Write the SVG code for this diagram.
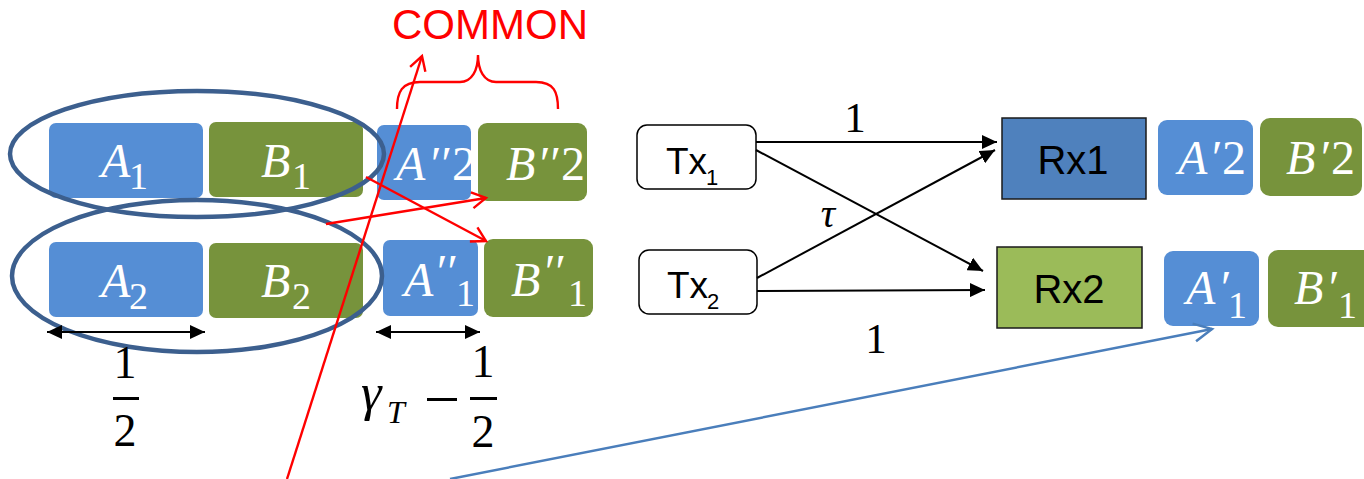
<svg xmlns="http://www.w3.org/2000/svg" width="1364" height="479" viewBox="0 0 1364 479">
  <style>
    .blk-a { fill: #558ED5; }
    .blk-b { fill: #77933C; }
    .m { font-family: "Liberation Serif", "DejaVu Serif", serif; font-style: italic; font-size: 48px; fill: #FFFFFF; }
    .s { font-size: 38px; font-style: normal; }
    .d { font-style: normal; }
    .ring { fill: none; stroke: #3C5F8E; stroke-width: 4.5; }
    .tx { fill: #FFFFFF; stroke: #000000; stroke-width: 1.5; }
    .lbl { font-family: "Liberation Sans", Arial, sans-serif; fill: #000000; }
    .num { font-family: "Liberation Serif", "DejaVu Serif", serif; fill: #000000; }
    .link { stroke: #000000; stroke-width: 2; fill: none; marker-end: url(#solid); }
    .red { stroke: #FF0000; stroke-width: 2.4; fill: none; }
    .dim { stroke: #000000; stroke-width: 2; marker-start: url(#solid); marker-end: url(#solid); }
  </style>
  <defs>
    <marker id="solid" markerUnits="userSpaceOnUse" markerWidth="16" markerHeight="14" refX="15" refY="7" orient="auto-start-reverse">
      <path d="M0,0 L15,7 L0,14 Z" fill="#000000"/>
    </marker>
    <marker id="openRed" markerUnits="userSpaceOnUse" markerWidth="20" markerHeight="20" refX="16" refY="10" orient="auto">
      <path d="M2,2 L16,10 L2,18" fill="none" stroke="#FF0000" stroke-width="2.4"/>
    </marker>
    <marker id="openBlue" markerUnits="userSpaceOnUse" markerWidth="24" markerHeight="24" refX="20" refY="12" orient="auto">
      <path d="M2,3 L20,12 L2,21" fill="none" stroke="#4A7EBB" stroke-width="2.5"/>
    </marker>
  </defs>

  <!-- transmitted blocks, row 1 and row 2 -->
  <g id="A1"><rect class="blk-a" x="49" y="123" width="154" height="75" rx="7"/>
    <text class="m" x="101" y="177">A<tspan class="s" x="129" y="189">1</tspan></text></g>
  <g id="B1"><rect class="blk-b" x="209" y="122" width="154" height="75" rx="7"/>
    <text class="m" x="261" y="177">B<tspan class="s" x="292" y="189">1</tspan></text></g>
  <g id="A2"><rect class="blk-a" x="49" y="242" width="154" height="75" rx="7"/>
    <text class="m" x="101" y="297">A<tspan class="s" x="129" y="309">2</tspan></text></g>
  <g id="B2"><rect class="blk-b" x="209" y="243" width="154" height="75" rx="7"/>
    <text class="m" x="261" y="297">B<tspan class="s" x="292" y="309">2</tspan></text></g>

  <!-- common blocks -->
  <g id="A2pp"><rect class="blk-a" x="377" y="125" width="94" height="75" rx="7"/>
    <text class="m" x="396" y="180">A<tspan x="428">′′</tspan><tspan class="d" x="452">2</tspan></text></g>
  <g id="B2pp"><rect class="blk-b" x="478" y="123" width="109" height="78" rx="9"/>
    <text class="m" x="506" y="180">B<tspan x="537">′′</tspan><tspan class="d" x="561">2</tspan></text></g>
  <g id="A1pp"><rect class="blk-a" x="383" y="240" width="95" height="76" rx="7"/>
    <text class="m" x="404" y="296">A<tspan x="434" y="288">′′</tspan><tspan class="s" x="456" y="306">1</tspan></text></g>
  <g id="B1pp"><rect class="blk-b" x="484" y="239" width="109" height="78" rx="9"/>
    <text class="m" x="511" y="296">B<tspan x="542" y="288">′′</tspan><tspan class="s" x="568" y="306">1</tspan></text></g>

  <!-- grouping ellipses -->
  <g id="group1"><ellipse class="ring" cx="197" cy="154" rx="187" ry="63"/></g>
  <g id="group2"><ellipse class="ring" cx="197" cy="276" rx="185" ry="76"/></g>

  <!-- widths -->
  <g id="widths">
    <line class="dim" x1="47" y1="332" x2="205" y2="332"/>
    <line class="dim" x1="376" y1="332" x2="480" y2="332"/>
    <text class="num" x="125" y="378" font-size="46" text-anchor="middle">1</text>
    <rect x="113" y="397" width="26" height="3" fill="#000000"/>
    <text class="num" x="125" y="446" font-size="46" text-anchor="middle">2</text>
    <text class="num" x="361" y="410" font-size="52" font-style="italic">γ<tspan x="387" y="423" font-size="32">T</tspan></text>
    <rect x="427" y="398" width="30" height="3" fill="#000000"/>
    <text class="num" x="483" y="377" font-size="46" text-anchor="middle">1</text>
    <rect x="470" y="397" width="27" height="3" fill="#000000"/>
    <text class="num" x="483" y="447" font-size="46" text-anchor="middle">2</text>
  </g>

  <!-- common label with brace -->
  <g id="common">
    <text x="490" y="39" font-family="Liberation Sans, Arial, sans-serif" font-size="42" fill="#FF0000" text-anchor="middle">COMMON</text>
    <path class="red" stroke-width="1.6" d="M397,109 C397,92 402,82 420,82 L460,82 C472,82 478,70 478,55 C478,70 484,82 496,82 L536,82 C554,82 558,92 558,109"/>
  </g>

  <!-- transmitters and receivers -->
  <g id="Tx1"><rect class="tx" x="637" y="125" width="119" height="64" rx="10"/>
    <text class="lbl" x="666" y="174" font-size="37">Tx<tspan x="706" y="185" font-size="22">1</tspan></text></g>
  <g id="Tx2"><rect class="tx" x="639" y="250" width="118" height="64" rx="10"/>
    <text class="lbl" x="667" y="298" font-size="37">Tx<tspan x="707" y="309" font-size="22">2</tspan></text></g>
  <g id="Rx1"><rect x="1002" y="118" width="144" height="81" fill="#4F81BD" stroke="#1A1A1A" stroke-width="1.5"/>
    <text class="lbl" x="1073" y="174" font-size="40" text-anchor="middle">Rx1</text></g>
  <g id="Rx2"><rect x="997" y="247" width="145" height="81" fill="#9BBB59" stroke="#1A1A1A" stroke-width="1.5"/>
    <text class="lbl" x="1069" y="303" font-size="40" text-anchor="middle">Rx2</text></g>

  <!-- received blocks -->
  <g id="A2p"><rect class="blk-a" x="1158" y="120" width="95" height="75" rx="9"/>
    <text class="m" x="1178" y="174">A<tspan x="1209">′</tspan><tspan class="d" x="1222">2</tspan></text></g>
  <g id="B2p"><rect class="blk-b" x="1260" y="118" width="102" height="78" rx="10"/>
    <text class="m" x="1286" y="174">B<tspan x="1318">′</tspan><tspan class="d" x="1331">2</tspan></text></g>
  <g id="A1p"><rect class="blk-a" x="1164" y="251" width="95" height="75" rx="9"/>
    <text class="m" x="1186" y="304">A<tspan x="1218">′</tspan><tspan class="s" x="1228" y="318">1</tspan></text></g>
  <g id="B1p"><rect class="blk-b" x="1268" y="250" width="106" height="77" rx="10"/>
    <text class="m" x="1294" y="304">B<tspan x="1326">′</tspan><tspan class="s" x="1338" y="318">1</tspan></text></g>

  <!-- channel gains -->
  <g id="gains">
    <text class="num" x="855" y="132" font-size="43" text-anchor="middle">1</text>
    <text class="num" x="828" y="227" font-size="40" font-style="italic" text-anchor="middle">τ</text>
    <text class="num" x="876" y="353" font-size="43" text-anchor="middle">1</text>
  </g>

  <!-- connectors -->
  <g id="connectors">
    <line class="link" x1="756" y1="142" x2="997" y2="142"/>
    <line class="link" x1="756" y1="150" x2="983" y2="271"/>
    <line class="link" x1="757" y1="278" x2="995" y2="150"/>
    <line class="link" x1="757" y1="291" x2="985" y2="290"/>
    <line class="red" x1="366" y1="177" x2="486" y2="241" marker-end="url(#openRed)"/>
    <line class="red" x1="326" y1="224" x2="486" y2="198" marker-end="url(#openRed)"/>
    <line class="red" x1="287" y1="479" x2="422" y2="56" marker-end="url(#openRed)"/>
    <line x1="450" y1="479" x2="1212" y2="329" stroke="#4A7EBB" stroke-width="2.5" marker-end="url(#openBlue)"/>
  </g>
</svg>
